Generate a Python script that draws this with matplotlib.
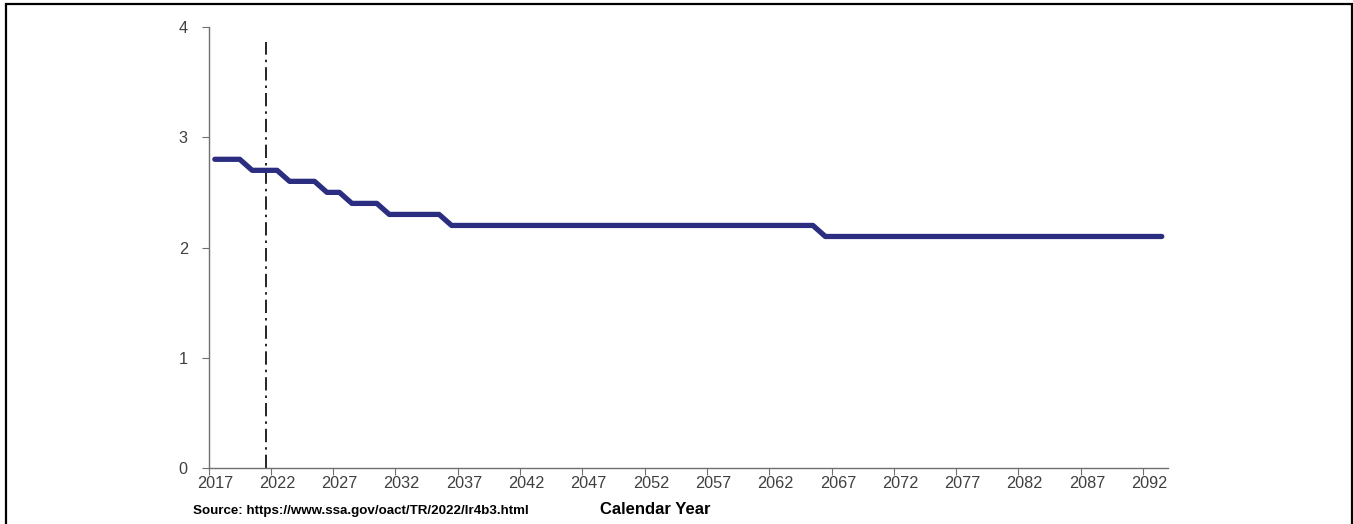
import matplotlib
matplotlib.use("Agg")
import matplotlib.pyplot as plt
from matplotlib.patches import Rectangle

plt.rcParams['font.family'] = ['Liberation Sans', 'DejaVu Sans']

years = list(range(2017, 2094))
values = ([2.8] * 3 + [2.7] * 3 + [2.6] * 3 + [2.5] * 2 + [2.4] * 3 + [2.3] * 5
          + [2.2] * 30 + [2.1] * 28)
tick_years = list(range(2017, 2093, 5))
y_ticks = [0, 1, 2, 3, 4]
marker_pos = 4.1       # dash-dot reference line (category position, ~2021)
marker_top = 3.86
source_text = "Source: https://www.ssa.gov/oact/TR/2022/lr4b3.html"
xlabel_text = "Calendar Year"

W, H = 1353, 524
fig = plt.figure(figsize=(W / 100, H / 100), dpi=100)
ax = fig.add_axes([208.6 / W, 1 - 468 / H, (1168 - 208.6) / W, (468 - 27) / H])

xs = list(range(len(years)))
ax.plot(xs, values, color='#2B2E80', lw=3.8, solid_joinstyle='round',
        solid_capstyle='round', zorder=3)
ax.plot([marker_pos, marker_pos], [0, marker_top], color='black', lw=1.2,
        linestyle=(0, (8, 3, 1.5, 3)), zorder=2)

ax.set_xlim(-0.5, len(years) - 0.5)
ax.set_ylim(0, 4)
ax.set_yticks(y_ticks)
ax.set_yticklabels([str(v) for v in y_ticks])

tick_idx = [years.index(y) for y in tick_years]
ax.set_xticks([i - 0.5 for i in tick_idx])
ax.set_xticklabels([])
for i, y in zip(tick_idx, tick_years):
    ax.text(i, -0.075, str(y), transform=ax.transData, ha='center', va='top',
            fontsize=11.7, color='#404040')

for s in ['top', 'right']:
    ax.spines[s].set_visible(False)
for s in ['left', 'bottom']:
    ax.spines[s].set_color('#6f6f6f')
    ax.spines[s].set_linewidth(1.0)
ax.tick_params(axis='y', direction='out', length=5, color='#6f6f6f',
               labelsize=11.7, labelcolor='#404040', pad=10)
ax.tick_params(axis='x', direction='out', length=5, color='#6f6f6f')

fig.text(193 / W, 1 - 511 / H, source_text, fontsize=9.6, fontweight='bold',
         ha='left', va='center', color='black')
fig.text(655 / W, 1 - 510 / H, xlabel_text, fontsize=12, fontweight='bold',
         ha='center', va='center', color='black')

fig.patches.append(Rectangle((6 / W, -0.05), (1352 - 6) / W, 1 + 0.05 - 4 / H,
                             transform=fig.transFigure, fill=False,
                             edgecolor='black', lw=1.6))

fig.savefig('out.png', dpi=100)
